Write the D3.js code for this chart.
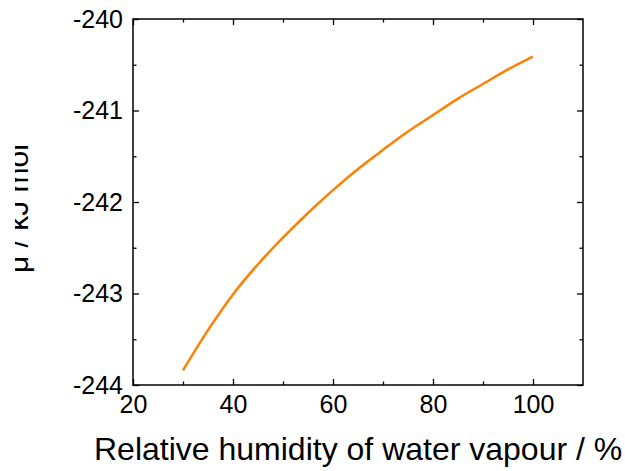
<!DOCTYPE html>
<html>
<head>
<meta charset="utf-8">
<script src="https://cdn.jsdelivr.net/npm/d3@7"></script>
<style>
  body { margin: 0; background: #fff; }
  text { font-family: "Liberation Sans", Arial, sans-serif; fill: #000; }
</style>
</head>
<body>
<div id="chart"></div>
<script>
// Data
const humidity = [30, 35, 40, 45, 50, 55, 60, 65, 70, 75, 80, 85, 90, 95, 100];
const mu = [-243.84, -243.40, -243.01, -242.68, -242.39, -242.12, -241.87, -241.64,
            -241.43, -241.23, -241.05, -240.87, -240.71, -240.55, -240.41];
const xTicks = [20, 40, 60, 80, 100];
const xMinor = [30, 50, 70, 90];
const yTicks = [-244, -243, -242, -241, -240];
const yMinor = [-243.5, -242.5, -241.5, -240.5];

const W = 625, H = 471;
const margin = {top: 19, right: 42, bottom: 86, left: 133},
    width = W - margin.left - margin.right,
    height = H - margin.top - margin.bottom;

const root = d3.select("#chart")
  .append("svg")
    .attr("width", W)
    .attr("height", H);

// the y title is cut off at the left edge in the original
root.append("clipPath")
    .attr("id", "ylabclip")
  .append("rect")
    .attr("x", 15).attr("y", 0)
    .attr("width", 100).attr("height", H);

const svg = root.append("g")
    .attr("transform", `translate(${margin.left},${margin.top})`);

const x = d3.scaleLinear().domain([20, 110]).range([0, width]);
const y = d3.scaleLinear().domain([-244, -240]).range([height, 0]);

// Axes with inward ticks on all four sides
function styleAxis(g) {
  g.select(".domain").remove();
  g.selectAll("line").attr("stroke", "#000").attr("stroke-width", 1.3);
  g.selectAll("text").style("font-size", "25px");
}
const fmt = d => String(d);

svg.append("g")
    .attr("transform", `translate(0,${height})`)
    .call(d3.axisBottom(x).tickValues(xTicks).tickSize(-6).tickPadding(10).tickFormat(fmt))
    .call(styleAxis);
svg.append("g")
    .attr("transform", `translate(0,${height})`)
    .call(d3.axisBottom(x).tickValues(xMinor).tickSize(-3.5).tickFormat(""))
    .call(styleAxis);
svg.append("g")
    .call(d3.axisTop(x).tickValues(xTicks).tickSize(-6).tickFormat(""))
    .call(styleAxis);
svg.append("g")
    .call(d3.axisTop(x).tickValues(xMinor).tickSize(-3.5).tickFormat(""))
    .call(styleAxis);

svg.append("g")
    .call(d3.axisLeft(y).tickValues(yTicks).tickSize(-6).tickPadding(10).tickFormat(fmt))
    .call(styleAxis);
svg.append("g")
    .call(d3.axisLeft(y).tickValues(yMinor).tickSize(-3.5).tickFormat(""))
    .call(styleAxis);
svg.append("g")
    .attr("transform", `translate(${width},0)`)
    .call(d3.axisRight(y).tickValues(yTicks).tickSize(-6).tickFormat(""))
    .call(styleAxis);
svg.append("g")
    .attr("transform", `translate(${width},0)`)
    .call(d3.axisRight(y).tickValues(yMinor).tickSize(-3.5).tickFormat(""))
    .call(styleAxis);

// Frame
svg.append("rect")
    .attr("width", width)
    .attr("height", height)
    .attr("fill", "none")
    .attr("stroke", "#000")
    .attr("stroke-width", 1.5);

// Curve
const line = d3.line()
    .x((d, i) => x(humidity[i]))
    .y(d => y(d))
    .curve(d3.curveMonotoneX);

svg.append("path")
    .datum(mu)
    .attr("fill", "none")
    .attr("stroke", "#ff8000")
    .attr("stroke-width", 2.5)
    .attr("d", line);

// Axis titles
root.append("text")
    .attr("x", 94)
    .attr("y", 460)
    .attr("text-anchor", "start")
    .style("font-size", "32px")
    .text("Relative humidity of water vapour / %");

const yl = root.append("g")
    .attr("clip-path", "url(#ylabclip)")
  .append("text")
    .attr("transform", "translate(28,273) rotate(-90)")
    .attr("text-anchor", "start")
    .style("font-size", "30px");
yl.append("tspan").text("\u03bc / kJ mol");
yl.append("tspan").attr("dy", -15).style("font-size", "20px").text("\u22121");
</script>
</body>
</html>
